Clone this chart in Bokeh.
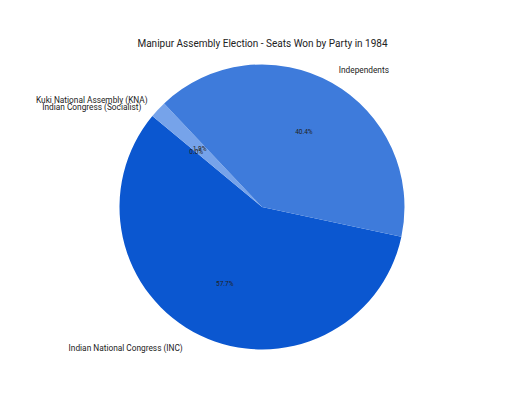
import numpy as np
from bokeh.plotting import figure
from bokeh.models import ColumnDataSource, Range1d
from bokeh.core.properties import value
from bokeh.embed import file_html
from bokeh.resources import INLINE

# data
title = "Manipur Assembly Election - Seats Won by Party in 1984"
parties = ["Indian National Congress (INC)", "Indian Congress (Socialist)",
           "Kuki National Assembly (KNA)", "Independents"]
seats = [30, 0, 1, 21]
colors = ["#0b57d0", "#8ab0ee", "#76a3ea", "#3e7bdb"]

# layout (pixels, figure coordinates)
W, H = 496, 394
cx, cy, r = 261.5, 187.5, 142.5
start = np.radians(-12.0)
FONT = "Roboto"

vals = np.array(seats, dtype=float)
frac = vals / vals.sum()
cum = np.concatenate([[0.0], np.cumsum(frac)])
starts = start - cum[:-1] * 2 * np.pi
ends = start - cum[1:] * 2 * np.pi
mids = (starts + ends) / 2

p = figure(width=W, height=H, x_range=Range1d(0, W), y_range=Range1d(0, H),
           toolbar_location=None, output_backend="svg", min_border=0)
p.axis.visible = False
p.grid.visible = False
p.outline_line_color = None
p.background_fill_color = "white"
p.border_fill_color = "white"

keep = vals > 0
wedges = ColumnDataSource(dict(
    x=[cx] * keep.sum(), y=[cy] * keep.sum(),
    s=list(starts[keep]), e=list(ends[keep]),
    c=[c for c, k in zip(colors, keep) if k]))
p.wedge(x="x", y="y", radius=r, start_angle="s", end_angle="e",
        direction="clock", fill_color="c", line_color=None, source=wedges)

# percentage labels inside slices
pct = ColumnDataSource(dict(
    x=list(cx + 0.6 * r * np.cos(mids)),
    y=list(cy + 0.6 * r * np.sin(mids)),
    t=["%.1f%%" % (f * 100) for f in frac]))
p.text(x="x", y="y", text="t", source=pct, text_font=value(FONT),
       text_font_size="6.5px", text_color="#222222", text_align="center",
       text_baseline="middle")

# party labels outside
nudge = [-11, 0, 0, 0]
lx = cx + 1.1 * r * np.cos(mids) + np.array(nudge)
ly = cy + 1.1 * r * np.sin(mids)
lab = ColumnDataSource(dict(
    x=list(lx), y=list(ly), t=parties,
    a=["left" if np.cos(m) > 0 else "right" for m in mids]))
p.text(x="x", y="y", text="t", text_align="a", source=lab,
       text_font=value(FONT), text_font_size="8.3px", text_color="#222222",
       text_baseline="middle")

p.text(x=[262], y=[351], text=[title], text_font=value(FONT),
       text_font_size="10px", text_color="#222222", text_align="center",
       text_baseline="middle")

open("out.html", "w").write(file_html(p, INLINE))
